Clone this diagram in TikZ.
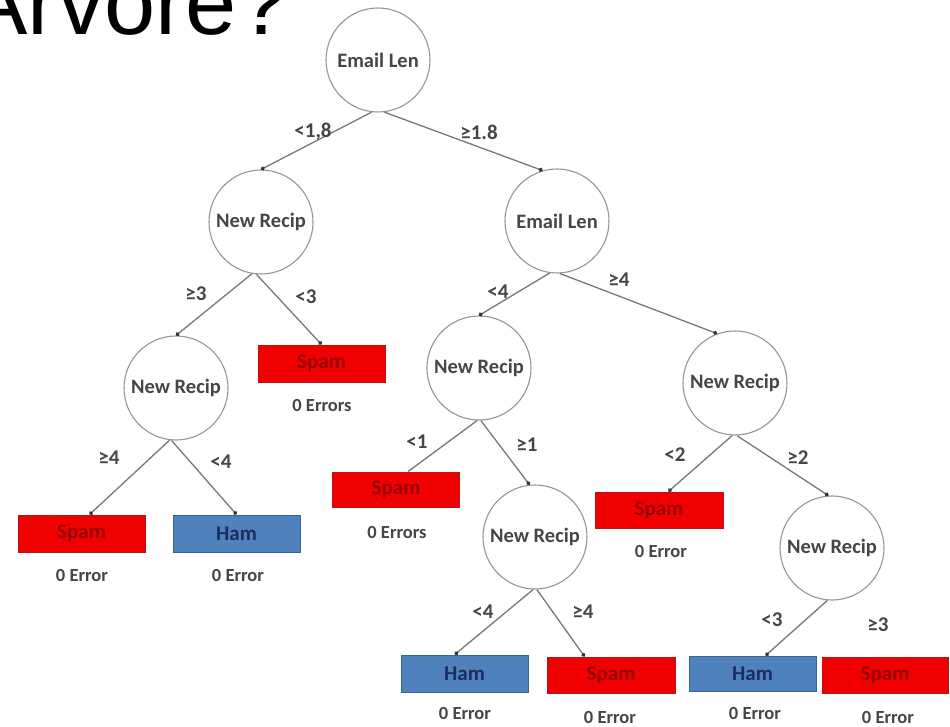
\documentclass[tikz,border=0pt]{standalone}
\usepackage{fontspec}
\setmainfont{Carlito}
\newfontfamily\titlefont{Liberation Sans}
\usetikzlibrary{arrows.meta}
\definecolor{spamred}{RGB}{240,0,0}
\definecolor{spamedge}{RGB}{185,20,20}
\definecolor{spamtext}{RGB}{150,0,0}
\definecolor{hamblue}{RGB}{79,129,189}
\definecolor{hamedge}{RGB}{60,100,150}
\definecolor{hamtext}{RGB}{25,45,95}
\definecolor{txtgray}{RGB}{70,70,70}
\definecolor{linegray}{RGB}{120,120,120}
\definecolor{circgray}{RGB}{150,150,150}
\tikzset{
  testnode/.style={circle, draw=circgray, line width=1.1pt, minimum size=104pt, inner sep=0pt,
    font=\fontsize{20.5}{22}\selectfont\bfseries, text=txtgray},
  spambox/.style={rectangle, draw=spamedge, fill=spamred, line width=1pt, minimum width=127pt,
    minimum height=37pt, inner sep=0pt, font=\fontsize{21}{22}\selectfont\bfseries, text=spamtext},
  hambox/.style={rectangle, draw=hamedge, fill=hamblue, line width=1pt, minimum width=127pt,
    minimum height=37pt, inner sep=0pt, font=\fontsize{21}{22}\selectfont\bfseries, text=hamtext},
  edgelbl/.style={font=\fontsize{21}{22}\selectfont\bfseries, text=txtgray, inner sep=0pt},
  errlbl/.style={font=\fontsize{18.5}{20}\selectfont\bfseries, text=txtgray, inner sep=0pt},
  branch/.style={draw=linegray, line width=1.3pt, -{Circle[length=4pt,color=black!80]}},
}
\begin{document}
\begin{tikzpicture}[x=1pt,y=-1pt]
\useasboundingbox (0,0) rectangle (950,727);
\fill[white] (0,0) rectangle (950,727);
\begin{scope}
\clip (0,0) rectangle (950,727);
\node[anchor=base west, inner sep=0pt, font=\titlefont\fontsize{92}{96}\selectfont] (title) at (-34,35) {Arvore?};
\end{scope}

% decision nodes
\node[testnode] (root) at (378,60) {Email Len};
\node[testnode] (nrA) at (261,222) {New Recip};
\node[testnode] (elB) at (557,221) {Email Len};
\node[testnode] (nrC) at (176,388) {New Recip};
\node[testnode] (nrD) at (479,368) {New Recip};
\node[testnode] (nrE) at (535,537) {New Recip};
\node[testnode] (nrF) at (735,383) {New Recip};
\node[testnode] (nrG) at (832,548) {New Recip};

% leaves
\node[spambox] (spam1) at (321.5,363.5) {Spam};
\node[spambox] (spam2) at (81.5,533.5) {Spam};
\node[hambox]  (ham1)  at (236.5,533.5) {Ham};
\node[spambox, minimum height=35pt] (spam3) at (396,489.5) {Spam};
\node[spambox, minimum width=128pt, minimum height=36pt] (spam4) at (659,510) {Spam};
\node[hambox]  (ham2)  at (464.5,673.5) {Ham};
\node[spambox, minimum width=128pt, minimum height=36pt] (spam5) at (611,675) {Spam};
\node[hambox, minimum height=35pt] (ham3) at (752.5,673.5) {Ham};
\node[spambox, minimum width=126pt, minimum height=36pt] (spam6) at (885,675) {Spam};

% error labels
\node[errlbl] (e1) at (322,406) {0 Errors};
\node[errlbl] (e2) at (82,575) {0 Error};
\node[errlbl] (e3) at (238,575) {0 Error};
\node[errlbl] (e4) at (397,532) {0 Errors};
\node[errlbl] (e5) at (661,551) {0 Error};
\node[errlbl] (e6) at (465,713) {0 Error};
\node[errlbl] (e7) at (610,717) {0 Error};
\node[errlbl] (e8) at (755,713) {0 Error};
\node[errlbl] (e9) at (888,717) {0 Error};

% branches
\draw[branch] (root.-97) -- (nrA.north);
\draw[branch] (root.-83) -- (elB.106);
\draw[branch] (nrA.-100) -- (nrC.north);
\draw[branch] (nrA.-95) -- (spam1.north);
\draw[branch] (nrC.-97) -- (spam2.67);
\draw[branch] (nrC.-95) -- (ham1.north);
\draw[branch] (elB.-98) -- (nrD.north);
\draw[branch] (elB.-87) -- (nrF.110);
\draw[draw=linegray, line width=1.3pt] (nrD.-92) -- (spam3.56);
\draw[branch] (nrD.-88) -- (nrE.96);
\draw[branch] (nrF.-93) -- (spam4.63);
\draw[branch] (nrF.-88) -- (nrG.94);
\draw[branch] (nrE.-92) -- (ham2.117);
\draw[branch] (nrE.-88) -- (spam5.145);
\draw[branch] (nrG.-95) -- (ham3.54);

% branch labels
\node[edgelbl] (l1) at (313,132) {<1,8};
\node[edgelbl] (l2) at (479,132) {≥1.8};
\node[edgelbl] (l3) at (196,294) {≥3};
\node[edgelbl] (l4) at (306,297) {<3};
\node[edgelbl] (l5) at (109,458) {≥4};
\node[edgelbl] (l6) at (221,462) {<4};
\node[edgelbl] (l7) at (498,292) {<4};
\node[edgelbl] (l8) at (619,280) {≥4};
\node[edgelbl] (l9) at (417,442) {<1};
\node[edgelbl] (l10) at (527,445) {≥1};
\node[edgelbl] (l11) at (675,455) {<2};
\node[edgelbl] (l12) at (798,458) {≥2};
\node[edgelbl] (l13) at (483,612) {<4};
\node[edgelbl] (l14) at (583,612) {≥4};
\node[edgelbl] (l15) at (772,620) {<3};
\node[edgelbl] (l16) at (878,625) {≥3};
\end{tikzpicture}
\end{document}
